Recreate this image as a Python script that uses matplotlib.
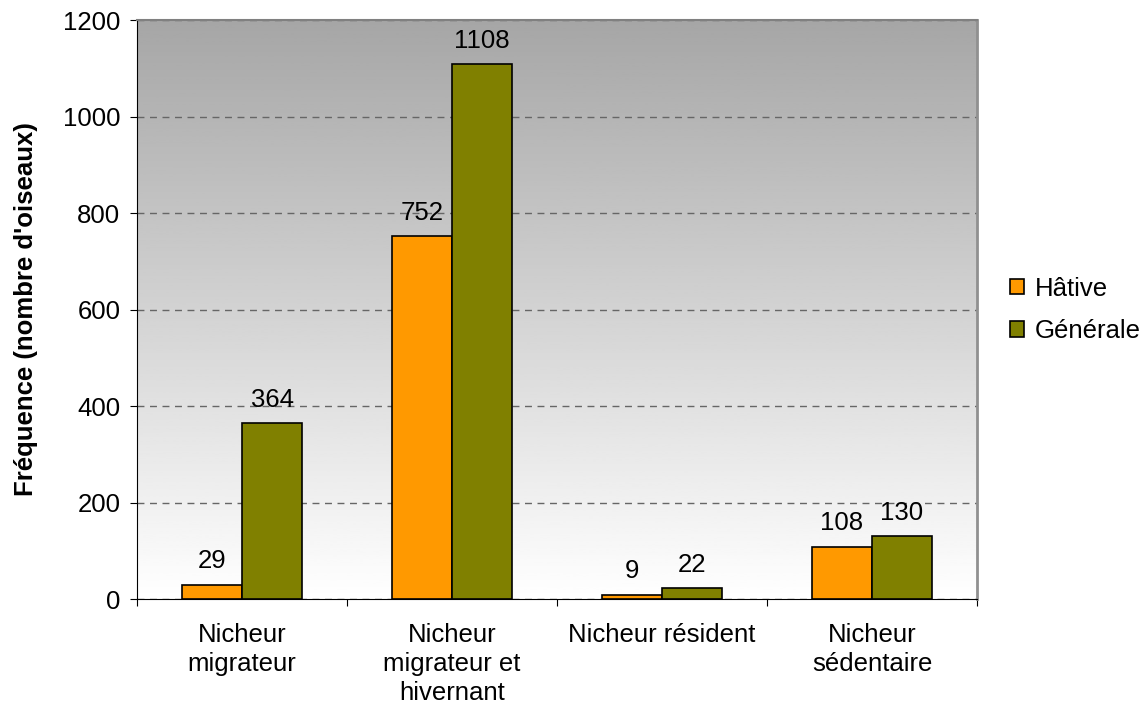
import numpy as np
import matplotlib.pyplot as plt

plt.rcParams['font.family'] = ['Liberation Sans', 'DejaVu Sans']

categories = ['Nicheur\nmigrateur', 'Nicheur\nmigrateur et\nhivernant',
              'Nicheur résident', 'Nicheur\nsédentaire']
hative = [29, 752, 9, 108]
generale = [364, 1108, 22, 130]
series_names = ['Hâtive', 'Générale']

fs = 18.5

fig = plt.figure(figsize=(11.45, 7.15), dpi=100)
ax = fig.add_axes([0.1197, 0.1622, 0.7336, 0.8098])

# gradient background, gray on top to white at bottom
grad = np.linspace(1.0, 0.0, 256).reshape(-1, 1)
ax.imshow(grad, extent=[-0.5, 3.5, 0, 1200], aspect='auto', cmap='gray_r',
          vmin=0, vmax=1 / 0.35, zorder=0, origin='upper')

x = np.arange(len(categories))
w = 0.2857
b1 = ax.bar(x - w / 2, hative, w, color='#FF9900', edgecolor='black', linewidth=1.2,
            label=series_names[0], zorder=3)
b2 = ax.bar(x + w / 2, generale, w, color='#808000', edgecolor='black', linewidth=1.2,
            label=series_names[1], zorder=3)

for bars, vals in [(b1, hative), (b2, generale)]:
    for r, v in zip(bars, vals):
        ax.annotate(str(v), (r.get_x() + r.get_width() / 2, v), xytext=(0, 12),
                    textcoords='offset points', ha='center', va='baseline',
                    fontsize=fs, zorder=4)

ax.set_xlim(-0.5, 3.5)
ax.set_ylim(0, 1200)
ax.set_yticks(range(0, 1201, 200))
ax.yaxis.grid(True, linestyle=(0, (5, 4)), color='#666666', linewidth=1, zorder=1)
ax.set_axisbelow(True)

ax.set_xticks(np.arange(-0.5, 3.6, 1))
ax.set_xticklabels([])
ax.set_xticks(x, minor=True)
ax.set_xticklabels(categories, minor=True, fontsize=fs, linespacing=1.28)
ax.tick_params(axis='x', which='minor', length=0, pad=17)
ax.tick_params(axis='x', which='major', length=5, direction='out')
ax.tick_params(axis='y', labelsize=fs, length=5, direction='out', pad=7)

ax.spines['left'].set_color('black')
ax.spines['bottom'].set_color('black')
ax.spines['top'].set_color('#808080')
ax.spines['right'].set_color('#909090')
ax.spines['top'].set_linewidth(1.5)
ax.spines['right'].set_linewidth(2)

ax.set_ylabel("Fréquence (nombre d'oiseaux)", fontsize=fs, fontweight='bold', labelpad=18)

ax.legend(loc='center left', bbox_to_anchor=(1010 / 1145, 1 - 310 / 715),
          bbox_transform=fig.transFigure, frameon=False, fontsize=fs,
          borderpad=0, borderaxespad=0,
          handlelength=0.55, handleheight=0.55, labelspacing=0.72, handletextpad=0.4)

fig.savefig('out.png', dpi=100)
